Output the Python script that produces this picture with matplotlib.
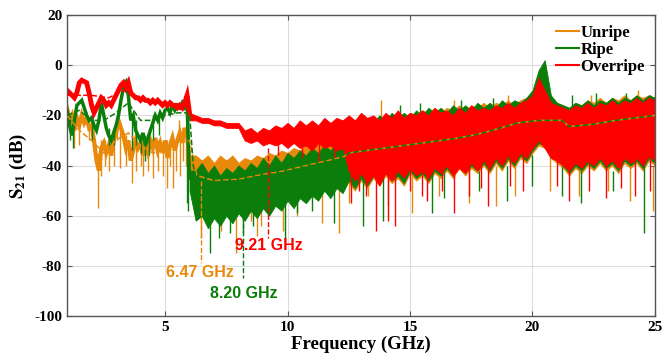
import numpy as np
import matplotlib.pyplot as plt

plt.rcParams['font.family'] = ['Liberation Serif', 'DejaVu Serif']
plt.rcParams['mathtext.fontset'] = 'stix'
plt.rcParams['axes.unicode_minus'] = False

c_un = '#e8890c'
c_ri = '#0a7d0a'
c_ov = '#ff0000'

# frequency grids (GHz): 1-6 GHz traced line, 6-25 GHz noisy band
early_f = np.round(np.arange(1.0, 6.01, 0.1), 2)
late_f = np.round(np.arange(6.0, 25.01, 0.25), 2)

# ---------------- Unripe ----------------
un_early = [-17, -22, -20, -26, -21, -24, -20, -23, -21, -25,
            -24, -30, -38, -42, -33, -31, -35, -32, -36, -30,
            -27, -22, -25, -28, -33, -30, -38, -34, -30, -33,
            -31, -36, -32, -35, -30, -33, -29, -34, -31, -35,
            -30, -37, -32, -29, -34, -30, -27, -31, -25, -28,
            -38]
un_hi = [-36, -36, -38, -36, -39, -36, -38, -36,
         -39, -37, -38, -36, -37, -35, -36, -34,
         -35, -33, -34, -32, -33, -31, -32, -30,
         -31, -29, -23, -24, -22, -23, -21, -22,
         -20, -21, -19, -21, -19, -20, -18, -19,
         -17, -19, -17, -18, -16, -18, -16, -17,
         -15, -17, -15, -16, -14, -16, -14, -13,
         -11, -6, -8, -13, -15, -16, -17, -15,
         -16, -14, -15, -13, -15, -13, -14, -12,
         -14, -12, -13, -12, -13]
un_lo = [-42, -47, -50, -48, -51, -48, -50, -49,
         -52, -49, -51, -48, -52, -49, -51, -48,
         -51, -48, -50, -47, -50, -47, -49, -46,
         -48, -46, -47, -50, -46, -49, -45, -48,
         -44, -47, -45, -48, -43, -46, -44, -47,
         -43, -45, -42, -45, -41, -44, -41, -43,
         -40, -43, -39, -42, -38, -41, -37, -39,
         -35, -32, -33, -37, -39, -41, -44, -41,
         -43, -40, -42, -39, -42, -40, -43, -39,
         -41, -39, -42, -38, -40]
un_sf = [1.3, 2.27, 2.7, 2.9, 3.16, 3.65, 4.1, 4.5, 5.1, 5.33,
         5.6, 6.45, 6.8, 7.3, 7.9, 8.5, 8.75, 8.9, 9.8, 10.4,
         11.4, 12.1, 12.5, 13.3, 14.1, 15.1, 16.2, 17.4, 18.5, 19.3,
         20.7, 21.9, 23.1, 24.0, 24.9,
         13.8, 16.8, 19.0, 22.4, 24.3,
         1.5, 1.9, 2.4, 2.55, 3.4, 3.8, 4.0, 4.3, 4.7, 4.9,
         5.2, 5.45, 5.75, 5.85, 3.05, 5.55]
un_st = [-20, -35, -30, -26, -25, -30, -30, -32, -30, -30,
         -28, -46, -46, -48, -48, -48, -48, -48, -48, -48,
         -48, -46, -45, -45, -44, -43, -42, -42, -40, -40,
         -36, -40, -40, -40, -40,
         -24, -22, -20, -18, -16,
         -22, -22, -30, -30, -28, -30, -30, -30, -30, -32,
         -30, -30, -25, -24, -30, -30]
un_sb = [-33, -57, -42, -40, -41, -47, -44, -45, -49, -49,
         -44, -69, -62, -66, -75, -62, -68, -64, -66, -60,
         -63, -67, -55, -52, -56, -59, -52, -55, -56, -52,
         -50, -52, -50, -54, -58,
         -14, -14, -12, -12, -10,
         -32, -30, -44, -40, -40, -42, -40, -42, -42, -44,
         -40, -42, -38, -40, -20, -22]

# ---------------- Ripe ----------------
ri_early = [-18, -24, -28, -22, -16, -15, -14, -17, -20, -22,
            -21, -24, -26, -22, -15, -20, -25, -28, -30, -27,
            -24, -20, -14, -9, -7, -12, -22, -20, -26, -28,
            -30, -27, -32, -29, -26, -23, -20, -22, -19, -21,
            -18, -17, -19, -16, -18, -16, -17, -15, -17, -16,
            -45]
ri_hi = [-42, -42, -39, -43, -40, -44, -41, -43,
         -40, -42, -39, -41, -37, -40, -36, -39,
         -35, -37, -34, -36, -33, -35, -32, -34,
         -31, -30, -24, -22, -24, -21, -23, -20,
         -22, -19, -21, -19, -21, -18, -20, -17,
         -19, -17, -19, -16, -18, -16, -18, -15,
         -17, -15, -17, -14, -16, -14, -15, -13,
         -10, -2, 2, -12, -15, -16, -17, -15,
         -16, -14, -16, -14, -15, -13, -15, -13,
         -14, -12, -14, -12, -13]
ri_lo = [-50, -62, -60, -65, -61, -64, -60, -63,
         -59, -62, -58, -61, -57, -60, -56, -58,
         -54, -57, -53, -55, -52, -54, -50, -53,
         -49, -51, -46, -49, -45, -48, -44, -47,
         -43, -46, -44, -47, -42, -45, -43, -46,
         -42, -44, -41, -44, -40, -43, -40, -42,
         -39, -42, -38, -41, -37, -40, -36, -38,
         -34, -31, -32, -36, -38, -40, -43, -40,
         -42, -39, -41, -38, -41, -39, -42, -38,
         -40, -38, -41, -37, -39]
ri_sf = [1.25, 2.0, 3.65, 4.2, 4.35, 5.9, 5.95, 6.84, 7.2, 7.65,
         8.2, 8.6, 9.9, 10.4, 11.0, 11.9, 13.1, 13.9, 15.9, 16.4,
         17.8, 18.95, 20.0, 21.2, 22.0, 23.3, 24.55,
         14.6, 15.4, 17.1, 18.4, 21.6, 22.6, 23.8, 24.8,
         1.1, 2.7, 2.9, 3.8, 4.0, 4.5, 4.75]
ri_st = [-25, -22, -20, -28, -28, -15, -15, -60, -60, -60,
         -58, -58, -54, -54, -52, -50, -45, -45, -43, -43,
         -42, -40, -36, -40, -42, -42, -40,
         -28, -26, -24, -22, -26, -24, -22, -20,
         -20, -25, -25, -22, -27, -20, -20]
ri_sb = [-33, -30, -34, -38, -36, -55, -58, -75, -69, -67,
         -67, -64, -70, -59, -58, -63, -64, -62, -59, -53,
         -50, -54, -48, -52, -55, -50, -67,
         -16, -15, -14, -13, -12, -11, -11, -12,
         -30, -33, -32, -32, -35, -30, -28]

# ---------------- Overripe ----------------
ov_early = [-10, -11, -12, -13, -11, -7, -6, -6.5, -7, -11,
            -16, -19, -17, -15, -13, -14, -16, -15, -16, -14,
            -12, -10, -8, -7, -9, -7, -11, -12, -13, -13,
            -14, -13, -14, -14, -15, -14, -15, -14, -15, -16,
            -15, -16, -15, -16, -16, -17, -16, -17, -15, -12,
            -19]
ov_hi = [-19, -20, -21, -21, -22, -22, -23, -23,
         -23, -26, -25, -27, -25, -26, -24, -25,
         -23, -25, -22, -24, -22, -24, -21, -23,
         -21, -22, -20, -22, -19, -21, -20, -22,
         -19, -21, -18, -21, -19, -20, -18, -20,
         -17, -19, -18, -20, -17, -19, -16, -18,
         -17, -18, -16, -17, -15, -17, -15, -14,
         -12, -5, -10, -15, -16, -17, -18, -16,
         -17, -15, -17, -15, -16, -14, -16, -14,
         -15, -13, -15, -13, -14]
ov_lo = [-22, -22, -23, -23, -24, -24, -25, -25,
         -25, -30, -31, -30, -32, -31, -32, -31,
         -33, -31, -33, -32, -34, -31, -33, -32,
         -34, -33, -42, -46, -43, -47, -44, -48,
         -43, -46, -42, -45, -41, -44, -42, -45,
         -41, -43, -40, -44, -41, -43, -39, -42,
         -38, -41, -37, -40, -36, -39, -35, -37,
         -33, -30, -33, -37, -38, -40, -42, -39,
         -41, -38, -40, -37, -40, -38, -41, -37,
         -39, -37, -40, -36, -38]
ov_sf = [9.6, 10.6, 11.3, 11.9, 12.6, 12.9, 13.2, 13.6, 14.1, 14.4,
         15.0, 15.5, 15.7, 16.3, 16.8, 17.4, 17.9, 18.2, 19.1, 19.6,
         21.0, 21.5, 22.3, 23.0, 23.6, 24.2, 24.8]
ov_st = [-30, -30, -31, -30, -40, -42, -42, -42, -42, -42,
         -40, -40, -40, -40, -40, -40, -38, -38, -36, -34,
         -36, -38, -38, -38, -38, -36, -36]
ov_sb = [-36, -37, -38, -37, -55, -50, -52, -66, -62, -64,
         -50, -52, -54, -50, -59, -52, -49, -56, -48, -50,
         -48, -54, -50, -53, -49, -52, -50]

# ---------------- smoothed (dashed) curves ----------------
un_mf = [1, 1.5, 2, 2.5, 3, 3.5, 4, 4.5, 5, 5.5, 6.0, 6.3, 7, 8, 9, 9.7, 11, 12.3, 12.5,
         14, 15.8, 17, 18, 19.4, 20.3, 21.2, 21.5, 22.5, 23.4, 25]
un_m = [-20, -26, -30, -35, -30, -27, -32, -35, -34, -31, -30, -44, -46, -45.5, -43.5,
        -42.5, -39.5, -36.5, -35, -33, -30.6, -29, -27, -23, -22, -22, -24.5, -23.5, -22, -20]
ri_mf = [1, 1.5, 2, 2.5, 3, 3.5, 4, 4.5, 5, 5.5, 6.0, 6.15, 6.3, 7, 8, 9, 9.7, 11, 12.3,
         12.5, 14, 15.8, 17, 18, 19.4, 20.3, 21.2, 21.5, 22.5, 23.4, 25]
ri_m = [-20, -18, -22, -22, -19, -15, -22, -22, -20, -19, -19, -40, -46, -46.5, -46, -44,
        -43, -40, -37, -35, -33, -30.6, -29, -27, -23, -22, -22, -24.5, -23.5, -22, -20]
ov_mf = [1, 1.5, 2, 2.7, 3.3, 4, 5, 5.9, 6.05, 7, 8.1, 8.2, 10, 12.3]
ov_m = [-12, -12, -12, -13, -10, -14, -15, -16, -21, -23, -24.5, -28.5, -27.5, -27]

fig = plt.figure(figsize=(6.64, 3.58), dpi=100)
ax = fig.add_axes([0.101, 0.1173, 0.8854, 0.8407])

series = [
    (un_early, un_hi, un_lo, un_sf, un_st, un_sb, c_un, 'Unripe', 3.0),
    (ri_early, ri_hi, ri_lo, ri_sf, ri_st, ri_sb, c_ri, 'Ripe', 2.5),
    (ov_early, ov_hi, ov_lo, ov_sf, ov_st, ov_sb, c_ov, 'Overripe', 3.5),
]
for early, hi, lo, sf, st, sb, col, lab, w in series:
    ax.plot(early_f, early, color=col, lw=w, solid_joinstyle='miter', zorder=2)
    ax.fill_between(late_f, lo, hi, color=col, lw=0.6, zorder=2)
    ax.vlines(sf, st, sb, color=col, lw=1.0, zorder=2)
    ax.plot([], [], color=col, lw=1.5, label=lab)

ax.plot(un_mf, un_m, '--', color=c_un, lw=1.1, zorder=3)
ax.plot(ri_mf, ri_m, '--', color=c_ri, lw=1.1, zorder=3)
ax.plot(ov_mf, ov_m, '--', color=c_ov, lw=1.1, zorder=3)

# cut-off markers
ax.plot([6.47, 6.47], [-46, -79], '--', color=c_un, lw=1.0, zorder=3)
ax.plot([8.20, 8.20], [-60, -85], '--', color=c_ri, lw=1.0, zorder=3)
ax.plot([9.21, 9.21], [-33, -69], '--', color=c_ov, lw=1.0, zorder=3)
ax.text(5.05, -82.5, '6.47 GHz', color=c_un, fontsize=11.5, family='Liberation Sans',
        fontweight='bold', va='center', zorder=4)
ax.text(6.82, -91, '8.20 GHz', color=c_ri, fontsize=11.5, family='Liberation Sans',
        fontweight='bold', va='center', zorder=4)
ax.text(7.85, -72, '9.21 GHz', color=c_ov, fontsize=11.5, family='Liberation Sans',
        fontweight='bold', va='center', zorder=4)

ax.set_xlim(1, 25)
ax.set_ylim(-100, 20)
ax.set_xticks([5, 10, 15, 20, 25])
ax.set_yticks(range(-100, 21, 20))
ax.grid(True, color='#dddddd', lw=0.8, zorder=0)
ax.set_axisbelow(True)
ax.tick_params(direction='in', top=True, right=True, labelsize=11, color='#555555')
for lbl in ax.get_xticklabels() + ax.get_yticklabels():
    lbl.set_fontweight('bold')
for s in ax.spines.values():
    s.set_color('#555555')
    s.set_linewidth(1.0)
ax.set_xlabel('Frequency (GHz)', fontsize=13.5, fontweight='bold', labelpad=1)
ax.set_ylabel(r'$\mathbf{S_{21}}$ (dB)', fontsize=13.5, fontweight='bold', labelpad=4)
ax.legend(loc='upper right', frameon=False, prop={'weight': 'bold', 'size': 12},
          handlelength=1.4, handletextpad=0.1, labelspacing=0.05, borderaxespad=0.2)

fig.savefig('out.png', dpi=100)
